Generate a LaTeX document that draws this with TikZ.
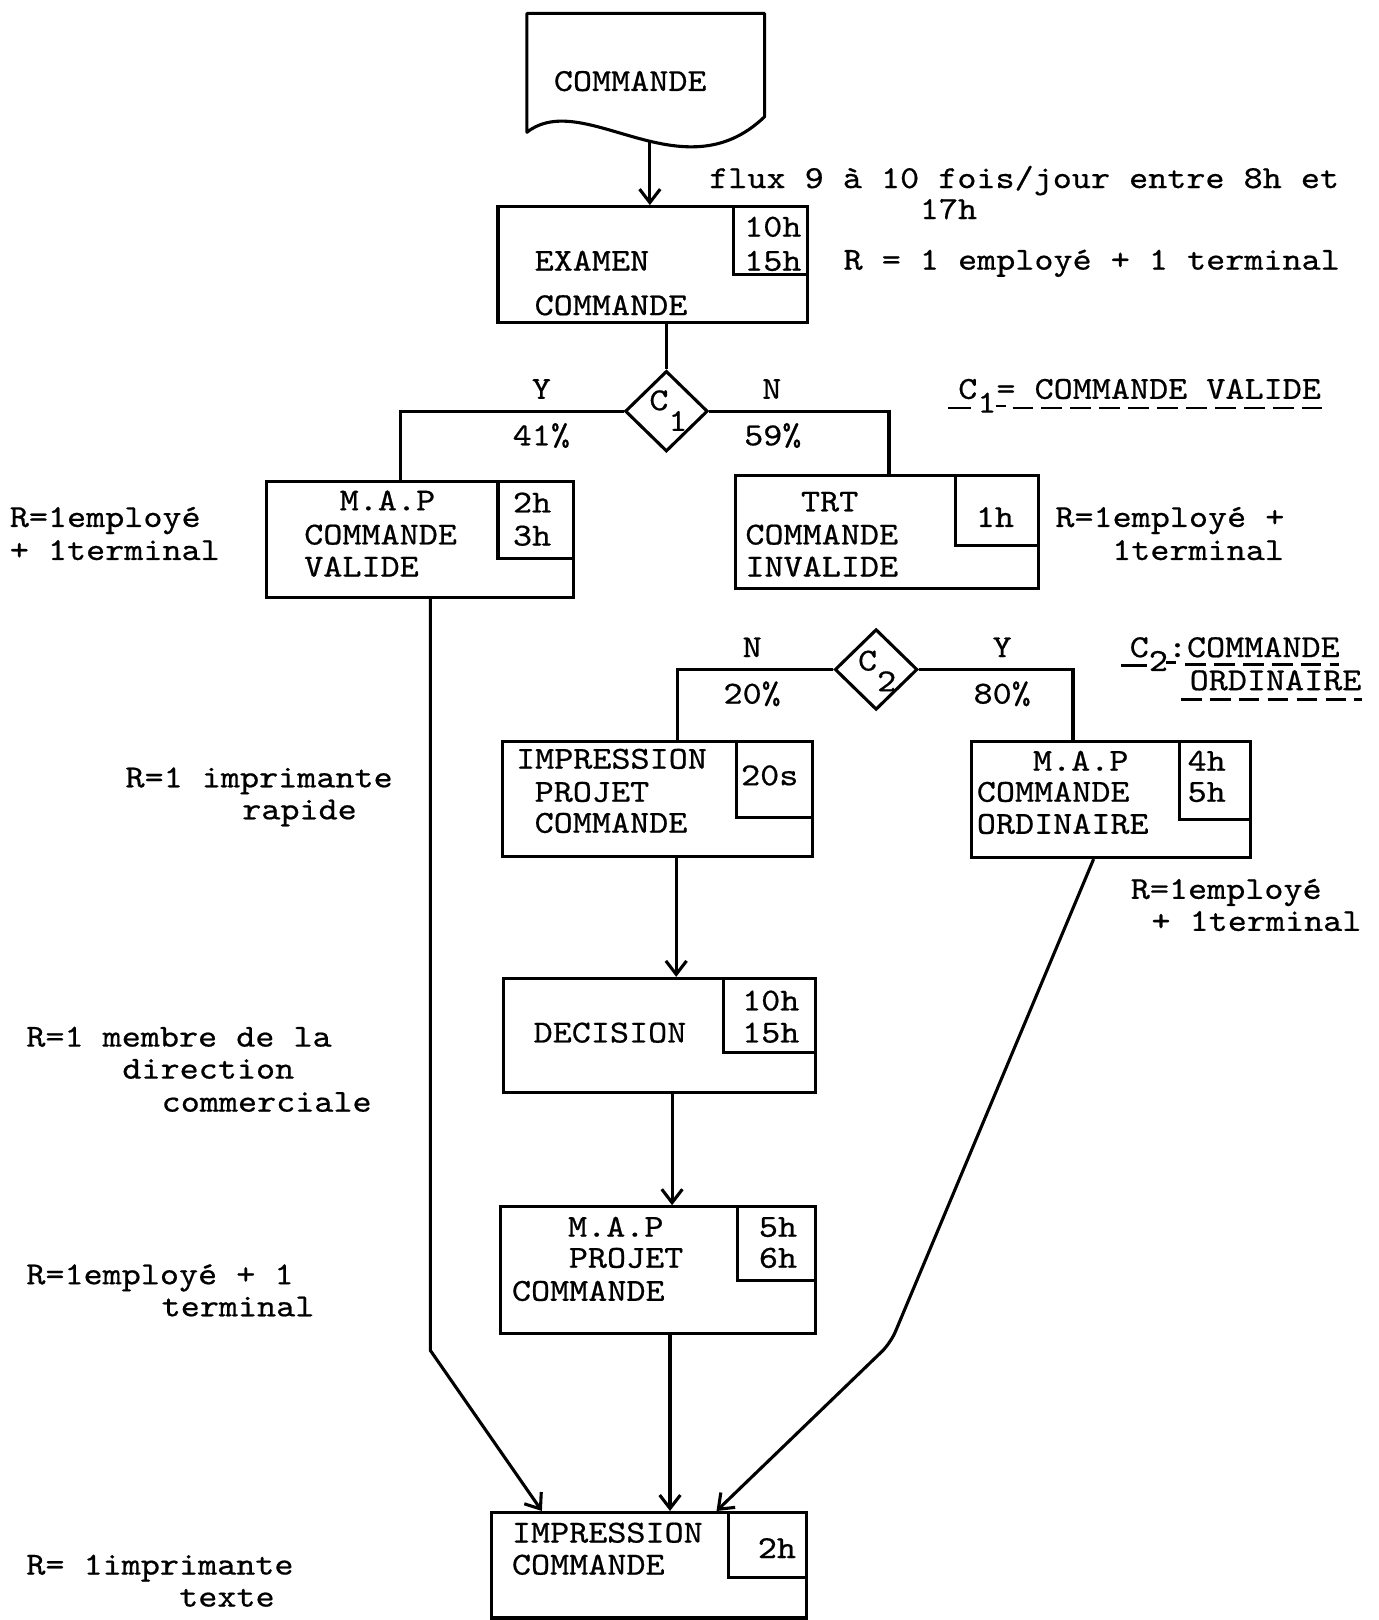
\documentclass[tikz,border=0pt]{standalone}
\usepackage{fontspec}
\usetikzlibrary{shapes.geometric,arrows.meta,fit,calc}
\newfontfamily\tyfont{lmmono10-regular}[Extension=.otf, FakeBold=0.6, FakeStretch=1.135]
\newcommand\tysize{\fontsize{15.5}{18}\selectfont\tyfont}

\begin{document}
\begin{tikzpicture}[x=0.5pt, y=-0.5pt, line width=1.5pt,
  box/.style={draw, inner sep=0pt},
  cond/.style={draw, diamond, inner sep=0pt, minimum width=40pt, minimum height=39pt},
  t/.style={font=\tysize, inner sep=0pt, anchor=base west},
  tc/.style={t, anchor=base},
  arr/.style={-{Straight Barb[length=6.5pt, width=10pt]}},
  uline/.style={line width=1.3pt, dash pattern=on 10pt off 4pt}]

\useasboundingbox (0,0) rectangle (1334,1568);

% input document
\draw[line join=round] (510,128) -- (510,13) -- (740,13) -- (740,113)
  .. controls (660,190) and (565,85) .. (510,128) -- cycle;
\node[tc] (doc) at (610,88) {COMMANDE};
\coordinate (doc-out) at (629,137);

% process boxes and their duration boxes
\node[box, fit={(482,200) (782,312)}] (examen) {};
\node[box, fit={(710,200) (782,266)}] (examen-t) {};
\node[box, fit={(258,466) (555,578)}] (mapv) {};
\node[box, fit={(482,466) (555,541)}] (mapv-t) {};
\node[box, fit={(712,460) (1005,570)}] (trt) {};
\node[box, fit={(925,460) (1005,528)}] (trt-t) {};
\node[box, fit={(486,718) (786,829)}] (imp) {};
\node[box, fit={(713,718) (786,791)}] (imp-t) {};
\node[box, fit={(940,718) (1210,830)}] (mapo) {};
\node[box, fit={(1142,718) (1210,793)}] (mapo-t) {};
\node[box, fit={(487,947) (789,1057)}] (dec) {};
\node[box, fit={(700,947) (789,1019)}] (dec-t) {};
\node[box, fit={(484,1168) (789,1291)}] (mappr) {};
\node[box, fit={(714,1168) (789,1239)}] (mappr-t) {};
\node[box, fit={(476,1464) (781,1566)}] (final) {};
\node[box, fit={(705,1464) (781,1527)}] (final-t) {};

% conditions
\node[cond] (c1) at (645,398) {};
\node[t] (c1-txt) at (627,397) {C\raisebox{-1.5ex}{1}};
\node[cond] (c2) at (848,648) {};
\node[t] (c2-txt) at (829,649) {C\raisebox{-1.5ex}{2}};

% texts inside the boxes
\node[t] (examen-l1) at (516,262) {EXAMEN};
\node[t] (examen-l2) at (516,305) {COMMANDE};
\node[tc] (examen-d1) at (748,229) {10h};
\node[tc] (examen-d2) at (748,262) {15h};

\node[tc] (mapv-l1) at (375,494) {M.A.P};
\node[t] (mapv-l2) at (293,527) {COMMANDE};
\node[t] (mapv-l3) at (293,558) {VALIDE};
\node[tc] (mapv-d1) at (515,496) {2h};
\node[tc] (mapv-d2) at (515,528) {3h};

\node[tc] (trt-l1) at (803,495) {TRT};
\node[t] (trt-l2) at (720,527) {COMMANDE};
\node[t] (trt-l3) at (720,558) {INVALIDE};
\node[tc] (trt-d1) at (963,510) {1h};

\node[t] (imp-l1) at (498,744) {IMPRESSION};
\node[t] (imp-l2) at (516,776) {PROJET};
\node[t] (imp-l3) at (516,806) {COMMANDE};
\node[tc] (imp-d1) at (745,760) {20s};

\node[tc] (mapo-l1) at (1046,746) {M.A.P};
\node[t] (mapo-l2) at (944,776) {COMMANDE};
\node[t] (mapo-l3) at (944,807) {ORDINAIRE};
\node[t] (mapo-d1) at (1148,746) {4h};
\node[t] (mapo-d2) at (1148,776) {5h};

\node[t] (dec-l1) at (515,1009) {DECISION};
\node[tc] (dec-d1) at (746,978) {10h};
\node[tc] (dec-d2) at (746,1009) {15h};

\node[tc] (mappr-l1) at (596,1197) {M.A.P};
\node[tc] (mappr-l2) at (606,1227) {PROJET};
\node[t] (mappr-l3) at (494,1259) {COMMANDE};
\node[tc] (mappr-d1) at (753,1197) {5h};
\node[tc] (mappr-d2) at (753,1227) {6h};

\node[t] (final-l1) at (494,1493) {IMPRESSION};
\node[t] (final-l2) at (494,1524) {COMMANDE};
\node[tc] (final-d1) at (752,1508) {2h};

% branch labels
\node[tc] (c1-y) at (524,386) {Y};
\node[tc] (c1-yp) at (524,431) {41\%};
\node[tc] (c1-n) at (747,386) {N};
\node[tc] (c1-np) at (748,431) {59\%};
\node[tc] (c2-n) at (728,636) {N};
\node[tc] (c2-np) at (728,681) {20\%};
\node[tc] (c2-y) at (970,636) {Y};
\node[tc] (c2-yp) at (970,681) {80\%};

% annotations
\node[t] (flux1) at (685,182) {flux 9 à 10 fois/jour entre 8h et};
\node[tc] (flux2) at (918,212) {17h};
\node[t] (res-examen) at (815,261) {R = 1 employé + 1 terminal};
\node[t] (res-mapv1) at (8,510) {R=1employé};
\node[t] (res-mapv2) at (8,542) {+ 1terminal};
\node[t] (res-trt1) at (1020,510) {R=1employé +};
\node[t] (res-trt2) at (1075,542) {1terminal};
\node[t] (res-imp1) at (120,762) {R=1 imprimante};
\node[t] (res-imp2) at (233,793) {rapide};
\node[t] (res-mapo1) at (1093,870) {R=1employé};
\node[t] (res-mapo2) at (1113,901) {+ 1terminal};
\node[t] (res-dec1) at (24,1013) {R=1 membre de la};
\node[t] (res-dec2) at (117,1044) {direction};
\node[t] (res-dec3) at (155,1076) {commerciale};
\node[t] (res-mappr1) at (24,1243) {R=1employé + 1};
\node[t] (res-mappr2) at (155,1274) {terminal};
\node[t] (res-final1) at (24,1524) {R= 1imprimante};
\node[t] (res-final2) at (172,1555) {texte};

% legends of the conditions
\node[t] (leg1) at (926,386) {C\raisebox{-1ex}{1}= COMMANDE VALIDE};
\draw[line width=1.3pt] (918,395) -- (940,395);
\draw[line width=1.3pt] (964,393) -- (974,393);
\draw[uline] (980,395) -- (1283,395);
\node[t] (leg2a) at (1092,636) {C\raisebox{-1ex}{2}:COMMANDE};
\node[t] (leg2b) at (1150,668) {ORDINAIRE};
\draw[line width=1.3pt] (1085,644) -- (1110,644);
\draw[line width=1.3pt] (1129,641) -- (1138,641);
\draw[uline] (1147,643) -- (1296,643);
\draw[uline] (1143,677) -- (1318,677);

% connectors
\coordinate (mapv-in) at ($(mapv.north west)+(131,0)$);
\coordinate (trt-in) at ($(trt.north west)+(150,0)$);
\coordinate (imp-in) at ($(imp.north west)+(171,0)$);
\coordinate (mapo-in) at ($(mapo.north west)+(100,0)$);
\coordinate (imp-out) at ($(imp.south west)+(170,0)$);
\coordinate (dec-out) at ($(dec.south west)+(165,0)$);
\coordinate (mappr-out) at ($(mappr.south west)+(166,0)$);
\coordinate (mapv-out) at ($(mapv.south west)+(160,0)$);
\coordinate (mapo-out) at ($(mapo.south west)+(120,0)$);
\coordinate (bend-l) at (mapv-out |- 0,1307);
\coordinate (bend-r) at (862,1300);
\coordinate (final-inl) at ($(final.north west)+(50,0)$);
\coordinate (final-inr) at ($(final.north west)+(219,0)$);

\draw[arr] (doc-out) -- (doc-out |- examen.north);
\draw (c1.north |- examen.south) -- (c1.north);
\draw (c1.west) -| (mapv-in);
\draw (c1.east) -| (trt-in);
\draw (c2.west) -| (imp-in);
\draw (c2.east) -| (mapo-in);
\draw[arr] (imp-out) -- (imp-out |- dec.north);
\draw[arr] (dec-out) -- (dec-out |- mappr.north);
\draw[arr] (mappr-out) -- (mappr-out |- final.north);
\draw[arr] (mapv-out) -- (bend-l) -- (final-inl);
\draw[arr, rounded corners=6pt] (mapo-out) -- (bend-r) -- (final-inr);
\end{tikzpicture}
\end{document}
